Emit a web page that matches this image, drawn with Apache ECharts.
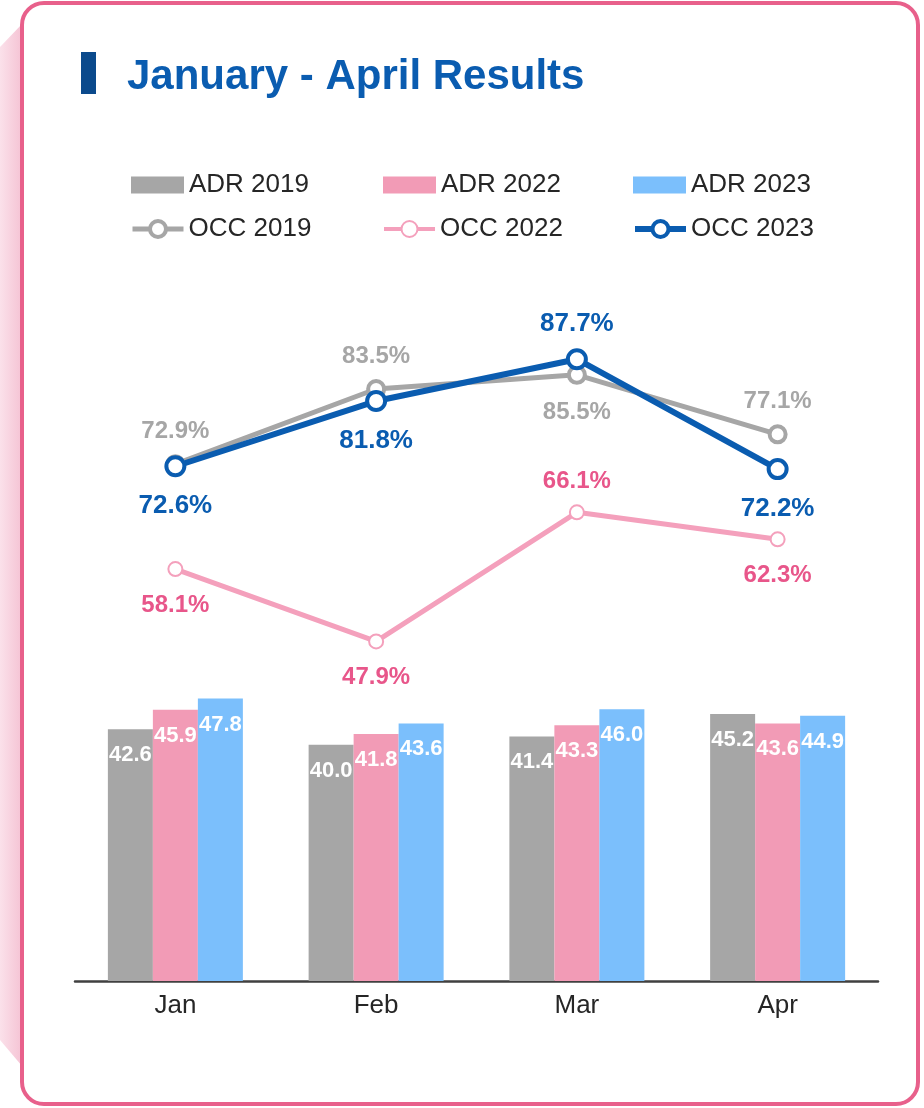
<!DOCTYPE html>
<html>
<head lang="en">
    <meta charset="UTF-8">
    <title>January - April Results</title>
    <style type="text/css">
        html, body { margin: 0; padding: 0; background: #fff; }
        #mychart { width: 924px; height: 1108px; }
    </style>
</head>
<body>
<div id='mychart'></div>
<script src='https://cdn.jsdelivr.net/npm/echarts@6/dist/echarts.min.js'></script>
<script>
    var months = ['Jan', 'Feb', 'Mar', 'Apr'];
    var adr2019 = [42.6, 40.0, 41.4, 45.2];
    var adr2022 = [45.9, 41.8, 43.3, 43.6];
    var adr2023 = [47.8, 43.6, 46.0, 44.9];
    var occ2019 = [72.9, 83.5, 85.5, 77.1];
    var occ2022 = [58.1, 47.9, 66.1, 62.3];
    var occ2023 = [72.6, 81.8, 87.7, 72.2];
    // where each OCC label sits relative to its point
    var occ2019Pos = ['top', 'top', 'bottom', 'top'];
    var occ2022Pos = ['bottom', 'bottom', 'top', 'bottom'];
    var occ2023Pos = ['bottom', 'bottom', 'top', 'bottom'];

    var grey = '#a6a6a6', pinkBar = '#f29bb6', blueBar = '#7bbffc';
    var pinkLine = '#f4a0bc', pinkText = '#e8568a', blueLine = '#0a5cb0';

    function occData(vals, pos) {
        return vals.map(function (v, i) {
            return {
                value: v,
                label: {position: pos[i], distance: pos[i] == 'top' ? 11 : 16}
            };
        });
    }

    function barSeries(name, vals, color) {
        return {
            name: name,
            type: 'bar',
            yAxisIndex: 0,
            barWidth: 45,
            barGap: '0%',
            data: vals,
            itemStyle: {color: color},
            label: {
                show: true,
                position: 'insideTop',
                distance: 15,
                color: '#fff',
                fontSize: 22,
                fontWeight: 'bold',
                formatter: function (p) { return p.value.toFixed(1); }
            }
        };
    }

    function lineSeries(name, vals, pos, color, textColor, width, size, border, fs) {
        return {
            name: name,
            type: 'line',
            yAxisIndex: 1,
            data: occData(vals, pos),
            symbol: 'circle',
            symbolSize: size,
            lineStyle: {color: color, width: width},
            itemStyle: {color: '#fff', borderColor: color, borderWidth: border},
            label: {
                show: true,
                color: textColor,
                fontSize: fs,
                fontWeight: 'bold',
                formatter: function (p) { return p.value.toFixed(1) + '%'; }
            }
        };
    }

    var legendNames = [['ADR 2019', 'ADR 2022', 'ADR 2023'], ['OCC 2019', 'OCC 2022', 'OCC 2023']];
    var legendLeft = [131, 383, 633];
    var legendTop = [172, 216];
    var legendLineW = [5, 4, 6];
    var legendBorderW = [4, 2, 4];
    var legends = [];
    legendNames.forEach(function (row, r) {
        row.forEach(function (n, c) {
            var lg = {
                data: [n],
                left: legendLeft[c],
                top: legendTop[r],
                padding: 0,
                itemWidth: 53,
                itemHeight: 17,
                textStyle: {fontSize: 26, color: '#262626', fontFamily: 'Liberation Sans'}
            };
            if (r == 0) {
                lg.icon = 'rect';
            } else {
                lg.left = legendLeft[c] - 1;
                lg.itemWidth = 51;
                lg.itemHeight = 20;
                lg.lineStyle = {width: legendLineW[c]};
                lg.itemStyle = {borderWidth: legendBorderW[c]};
            }
            legends.push(lg);
        });
    });

    var option = {
        backgroundColor: '#fff',
        animation: false,
        textStyle: {fontFamily: 'Liberation Sans'},
        title: {
            text: 'January - April Results',
            left: 122,
            top: 51,
            textStyle: {fontSize: 42, fontWeight: 'bold', color: '#0a5cb0', fontFamily: 'Liberation Sans'}
        },
        graphic: [
            {
                type: 'polygon',
                shape: {points: [[0, 47], [22, 24], [22, 1066], [0, 1040]]},
                style: {
                    fill: new echarts.graphic.LinearGradient(0, 0, 1, 0, [
                        {offset: 0, color: '#fbe1ea'},
                        {offset: 1, color: '#f5c3d4'}
                    ])
                },
                z: -1
            },
            {
                type: 'rect',
                shape: {x: 22, y: 3, width: 896, height: 1101, r: 22},
                style: {fill: '#fff', stroke: '#e8608b', lineWidth: 4},
                z: -1
            },
            {
                type: 'rect',
                shape: {x: 81, y: 52, width: 15, height: 42},
                style: {fill: '#0b4a8c'}
            }
        ],
        legend: legends,
        grid: {left: 75, right: 46, top: 272, bottom: 127},
        xAxis: {
            type: 'category',
            data: months,
            axisTick: {show: false},
            axisLine: {lineStyle: {color: '#404040', width: 2.5}},
            axisLabel: {fontSize: 26, color: '#262626', margin: 12}
        },
        yAxis: [
            {type: 'value', min: 0, max: 120, show: false, splitLine: {show: false}},
            {type: 'value', min: 0, max: 100, show: false, splitLine: {show: false}}
        ],
        series: [
            barSeries('ADR 2019', adr2019, grey),
            barSeries('ADR 2022', adr2022, pinkBar),
            barSeries('ADR 2023', adr2023, blueBar),
            lineSeries('OCC 2019', occ2019, occ2019Pos, grey, grey, 5, 16, 4, 24),
            lineSeries('OCC 2022', occ2022, occ2022Pos, pinkLine, pinkText, 5, 14, 2, 24),
            lineSeries('OCC 2023', occ2023, occ2023Pos, blueLine, blueLine, 6, 18, 4, 26)
        ]
    };

    var mychart = echarts.init(document.getElementById('mychart'));
    mychart.setOption(option);
</script>
</body>
</html>
